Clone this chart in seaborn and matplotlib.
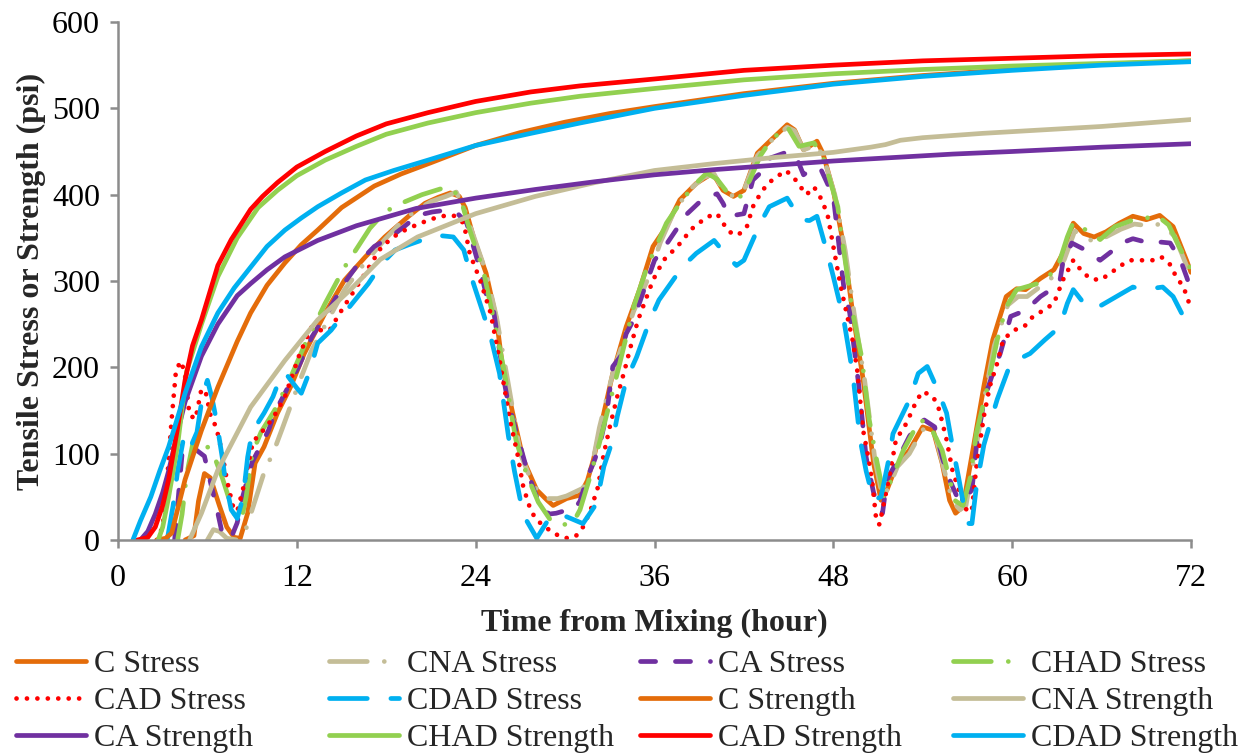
import matplotlib
matplotlib.use("Agg")
import matplotlib.pyplot as plt
import seaborn as sns

# ---------------- data: stress series (hour, psi) ----------------
c_stress_t = [4.5, 5.1, 5.4, 5.8, 6.2, 6.8, 7.3, 7.8, 8.2, 8.7, 9.2, 9.8, 10.7, 11.6, 12.5, 13.9, 15.2, 16.6, 17.9, 19.5, 20.6, 21.5, 22.3, 22.9, 23.3, 23.9, 24.7, 25.4, 25.8, 26.5, 27.2, 28.1, 28.8, 29.2, 30.1, 31.0, 31.5, 31.9, 32.3, 33.2, 34.1, 35.0, 35.9, 36.8, 37.7, 38.8, 39.9, 40.6, 41.3, 42.0, 42.9, 43.8, 44.9, 45.4, 46.0, 46.4, 46.9, 47.3, 48.0, 48.7, 49.3, 50.0, 50.7, 51.2, 51.6, 52.2, 53.1, 54.0, 54.7, 55.3, 55.8, 56.2, 56.7, 57.4, 58.1, 58.7, 59.6, 60.3, 60.9, 61.9, 62.8, 63.4, 64.1, 64.8, 65.5, 66.3, 67.2, 68.1, 69.0, 69.9, 70.8, 71.7, 72.0]
c_stress_v = [0, 5, 45, 77, 72, 40, 15, 3, 2, 31, 89, 108, 147, 178, 216, 263, 301, 328, 351, 375, 390, 397, 402, 398, 385, 348, 309, 255, 201, 146, 93, 58, 46, 40, 48, 52, 69, 93, 124, 193, 247, 290, 340, 363, 394, 413, 425, 405, 398, 405, 448, 463, 481, 475, 452, 456, 462, 448, 405, 340, 263, 186, 89, 46, 58, 85, 104, 131, 127, 89, 46, 31, 39, 108, 178, 232, 282, 291, 290, 303, 313, 332, 367, 355, 351, 357, 367, 375, 371, 376, 363, 324, 310]

cna_stress_t = [6.0, 6.4, 6.8, 7.3, 8.0, 8.5, 9.0, 9.8, 10.5, 11.0, 12.1, 13.0, 14.0, 15.2, 16.6, 17.9, 19.0, 20.0, 21.0, 22.0, 22.7, 23.2, 23.9, 24.7, 25.4, 26.2, 27.0, 27.7, 28.3, 28.8, 29.5, 30.1, 31.2, 31.8, 32.3, 33.2, 34.1, 34.6, 35.5, 36.4, 37.3, 38.3, 39.3, 40.0, 40.6, 41.3, 42.0, 42.9, 43.8, 44.9, 45.4, 46.0, 46.5, 46.9, 47.4, 48.1, 48.8, 49.4, 50.1, 50.8, 51.3, 51.7, 52.3, 53.1, 54.0, 54.8, 55.5, 56.0, 56.5, 56.9, 57.5, 58.2, 58.8, 59.7, 60.4, 61.0, 62.0, 62.9, 63.5, 64.2, 64.9, 65.6, 66.4, 67.3, 68.2, 69.1, 70.0, 70.9, 71.7, 72.0]
cna_stress_v = [0, 12, 10, 2, 0, 8, 35, 78, 105, 128, 180, 220, 252, 290, 322, 348, 368, 382, 392, 398, 403, 385, 350, 310, 258, 180, 100, 70, 53, 48, 48, 51, 60, 85, 130, 193, 240, 265, 300, 345, 380, 405, 420, 424, 405, 398, 405, 445, 462, 478, 474, 452, 455, 458, 440, 400, 335, 262, 185, 92, 50, 60, 85, 100, 128, 124, 77, 45, 35, 40, 100, 170, 225, 272, 282, 282, 295, 307, 325, 358, 350, 345, 352, 360, 366, 364, 366, 352, 318, 305]

ca_stress_t = [3.8, 4.3, 4.7, 5.2, 5.8, 6.3, 6.7, 7.0, 7.3, 7.6, 8.0, 8.3, 9.0, 10.1, 10.5, 11.2, 12.1, 13.0, 14.0, 15.2, 16.3, 17.2, 18.3, 19.2, 20.1, 21.1, 22.0, 22.8, 23.4, 24.3, 24.7, 25.2, 25.9, 26.1, 26.7, 27.3, 27.9, 28.3, 28.9, 29.4, 30.0, 30.6, 31.0, 31.5, 31.9, 32.3, 32.8, 33.2, 33.7, 34.1, 34.6, 35.3, 36.0, 36.7, 37.6, 38.2, 39.3, 40.2, 40.6, 41.0, 42.0, 42.6, 43.1, 43.7, 45.0, 45.6, 46.0, 46.7, 47.2, 47.6, 48.0, 48.7, 49.1, 49.7, 50.2, 50.7, 51.1, 51.3, 51.6, 52.2, 53.1, 53.7, 54.1, 54.8, 55.3, 55.8, 56.3, 56.7, 57.3, 57.6, 58.1, 58.7, 59.2, 59.9, 60.9, 61.9, 62.6, 63.2, 63.4, 64.0, 64.9, 65.4, 65.9, 66.8, 67.5, 68.1, 69.2, 70.0, 70.6, 71.3, 71.7, 72.0]
ca_stress_v = [0, 100, 108, 105, 97, 60, 31, 7, 2, 3, 20, 46, 90, 127, 147, 170, 200, 235, 262, 298, 324, 340, 351, 363, 376, 380, 382, 378, 367, 313, 285, 266, 185, 166, 127, 90, 58, 42, 30, 31, 34, 35, 45, 73, 89, 108, 147, 201, 212, 239, 255, 290, 324, 340, 363, 378, 396, 401, 390, 375, 378, 417, 425, 442, 450, 440, 423, 432, 428, 413, 398, 293, 263, 180, 96, 55, 35, 31, 70, 89, 120, 135, 139, 131, 96, 70, 50, 46, 58, 108, 162, 193, 216, 259, 266, 282, 290, 300, 321, 344, 336, 330, 324, 336, 345, 349, 344, 345, 344, 324, 305, 290]

chad_stress_t = [4.0, 4.3, 4.6, 5.0, 5.4, 6.0, 6.5, 7.0, 7.5, 7.9, 8.3, 8.6, 9.0, 9.6, 10.5, 11.5, 12.5, 13.9, 15.2, 16.0, 16.9, 17.9, 19.0, 20.4, 21.7, 22.4, 23.0, 23.6, 24.5, 25.4, 25.9, 26.7, 27.4, 28.2, 29.1, 30.0, 30.5, 31.0, 31.6, 32.3, 33.5, 34.6, 35.5, 36.8, 37.7, 38.6, 39.5, 40.2, 41.0, 41.8, 42.4, 43.1, 43.8, 44.9, 45.7, 46.2, 46.7, 47.3, 48.3, 48.5, 49.3, 49.9, 50.4, 50.9, 51.4, 51.9, 52.7, 53.8, 54.4, 55.3, 55.8, 56.2, 56.7, 57.2, 57.6, 58.3, 59.0, 59.6, 60.3, 61.7, 63.0, 63.7, 64.1, 64.6, 65.9, 66.9, 68.0, 68.8, 69.7, 70.5, 71.2, 72.0]
chad_stress_v = [0, 30, 75, 110, 124, 108, 95, 72, 45, 25, 25, 50, 100, 125, 150, 185, 225, 274, 316, 337, 361, 380, 390, 400, 407, 407, 395, 359, 313, 240, 197, 116, 77, 44, 21, 18, 19, 35, 69, 112, 193, 270, 316, 367, 390, 410, 425, 418, 400, 398, 417, 445, 463, 479, 456, 458, 460, 444, 386, 359, 263, 212, 140, 93, 50, 70, 104, 139, 135, 104, 70, 45, 40, 73, 124, 174, 232, 270, 290, 297, 313, 351, 368, 363, 348, 363, 370, 372, 376, 365, 340, 313]

cad_stress_t = [2.6, 3.0, 3.3, 3.6, 3.9, 4.25, 4.5, 4.8, 5.2, 5.6, 5.9, 6.2, 6.6, 7.0, 7.3, 7.7, 8.0, 8.4, 9.06, 9.6, 10.3, 10.7, 11.2, 12.2, 13.0, 13.6, 14.2, 15.0, 16.3, 17.7, 18.8, 19.5, 20.3, 21.6, 22.5, 23.2, 23.6, 24.3, 25.0, 25.6, 26.3, 26.8, 27.2, 27.7, 28.1, 29.2, 30.0, 30.7, 31.2, 31.7, 32.2, 32.6, 33.0, 33.5, 34.0, 34.4, 34.9, 35.9, 36.6, 37.3, 37.9, 38.4, 39.5, 40.2, 40.6, 41.0, 41.6, 42.2, 42.6, 43.1, 43.6, 44.8, 45.3, 45.8, 46.2, 46.7, 47.1, 47.6, 48.0, 48.5, 48.9, 49.3, 49.6, 50.0, 50.3, 50.6, 50.9, 51.1, 51.3, 51.8, 52.2, 52.9, 53.6, 54.0, 54.7, 55.1, 55.6, 56.0, 56.5, 57.0, 57.3, 57.6, 58.1, 58.5, 59.0, 59.4, 60.1, 60.8, 61.4, 62.1, 62.8, 63.4, 64.1, 64.6, 65.2, 65.9, 66.6, 67.2, 67.9, 68.6, 69.4, 70.0, 70.6, 71.0, 71.5, 72.0]
cad_stress_v = [0, 15, 70, 140, 198, 207, 190, 145, 140, 175, 170, 145, 130, 100, 70, 40, 33, 60, 114, 124, 139, 150, 166, 216, 247, 243, 243, 266, 301, 340, 355, 361, 367, 375, 376, 367, 332, 301, 263, 209, 139, 100, 61, 34, 23, 8, 2, 4, 15, 34, 61, 100, 131, 166, 197, 224, 255, 301, 324, 336, 347, 359, 374, 378, 367, 357, 353, 363, 386, 401, 413, 428, 421, 409, 400, 409, 398, 378, 340, 293, 262, 231, 197, 127, 100, 69, 20, 18, 35, 77, 116, 135, 162, 172, 166, 151, 116, 80, 54, 32, 35, 85, 143, 178, 205, 232, 243, 247, 259, 266, 274, 301, 324, 313, 303, 301, 309, 317, 324, 324, 324, 328, 319, 305, 293, 268]

cdad_stress_t = [3.3, 3.7, 4.0, 4.4, 4.8, 5.3, 5.7, 6.0, 6.3, 6.6, 7.0, 7.2, 7.6, 8.0, 8.4, 8.7, 9.0, 9.8, 10.4, 11.0, 11.3, 11.6, 12.0, 12.3, 12.9, 13.4, 14.3, 15.2, 16.8, 17.7, 18.6, 19.5, 20.5, 21.4, 22.5, 23.2, 23.7, 24.5, 25.0, 25.6, 26.2, 26.6, 27.0, 27.4, 28.1, 29.0, 30.1, 31.2, 32.1, 32.6, 33.2, 33.5, 34.1, 34.8, 35.7, 36.3, 37.9, 38.8, 40.0, 40.9, 41.5, 42.0, 43.1, 43.7, 44.9, 45.8, 46.4, 46.9, 47.6, 48.0, 48.7, 49.3, 49.8, 50.2, 50.7, 51.2, 51.8, 52.0, 53.1, 53.7, 54.3, 55.0, 55.6, 56.0, 56.4, 56.8, 57.1, 57.3, 57.6, 58.1, 58.6, 59.0, 59.9, 60.5, 61.2, 62.2, 63.2, 63.7, 64.1, 65.0, 66.0, 66.6, 68.1, 68.8, 70.1, 70.8, 71.6, 72.0]
cdad_stress_v = [0, 40, 80, 118, 105, 125, 170, 185, 165, 139, 95, 69, 35, 25, 50, 96, 125, 147, 166, 193, 192, 185, 176, 170, 197, 228, 243, 263, 297, 320, 336, 342, 348, 353, 351, 336, 305, 263, 236, 193, 120, 80, 46, 23, 2, 27, 27, 19, 42, 85, 116, 143, 185, 212, 255, 278, 317, 332, 347, 328, 318, 324, 367, 386, 396, 371, 370, 375, 332, 305, 255, 193, 116, 80, 46, 50, 100, 123, 162, 193, 201, 174, 147, 108, 73, 35, 19, 19, 62, 110, 140, 163, 205, 210, 216, 232, 247, 274, 290, 270, 272, 278, 293, 290, 293, 282, 255, 250]

# ---------------- data: strength series (hour, psi) ----------------
c_strength_t = [2.6, 3.2, 3.6, 4.5, 5.6, 6.7, 8.0, 8.9, 10.0, 11.2, 12.3, 13.4, 15.0, 17.2, 19.0, 21.0, 24.0, 27.0, 30.0, 33.0, 36.0, 42.0, 48.0, 54.0, 60.0, 66.0, 72.0]
c_strength_v = [0, 2, 8, 70, 127, 177, 230, 263, 295, 321, 342, 359, 385, 410, 424, 437, 457, 472, 484, 494, 502, 517, 529, 538, 545, 551, 555]

cna_strength_t = [4.8, 5.6, 6.7, 8.9, 11.2, 13.4, 15.6, 17.6, 20.1, 24.0, 28.0, 32.0, 36.0, 40.0, 44.0, 48.0, 50.5, 51.5, 52.5, 54.0, 58.0, 62.0, 66.0, 72.0]
cna_strength_v = [0, 31, 81, 154, 208, 255, 290, 325, 351, 378, 398, 414, 428, 436, 443, 449, 455, 458, 463, 466, 471, 475, 479, 487]

ca_strength_t = [1.5, 2.0, 2.5, 3.0, 3.4, 4.0, 4.5, 5.6, 6.7, 8.0, 8.9, 10.0, 11.2, 13.4, 16.0, 20.0, 24.0, 28.0, 32.0, 36.0, 40.0, 44.0, 48.0, 52.0, 56.0, 60.0, 66.0, 72.0]
ca_strength_v = [0, 10, 30, 55, 80, 125, 160, 213, 250, 283, 297, 313, 328, 347, 364, 384, 396, 406, 415, 423, 429, 434, 439, 443, 447, 450, 455, 459]

chad_strength_t = [2.7, 3.0, 3.4, 4.0, 4.6, 5.6, 6.7, 8.0, 9.4, 10.7, 12.0, 13.9, 16.0, 18.0, 20.8, 24.0, 27.7, 31.0, 36.0, 42.0, 48.0, 54.0, 60.0, 66.0, 72.0]
chad_strength_v = [0, 15, 50, 110, 195, 250, 305, 350, 385, 405, 422, 440, 456, 470, 483, 495, 506, 514, 523, 533, 540, 545, 549, 552, 555]

cad_strength_t = [1.3, 2.0, 2.5, 3.0, 3.4, 4.0, 4.5, 5.0, 5.6, 6.7, 7.6, 8.9, 9.7, 10.7, 12.0, 13.9, 16.0, 18.0, 20.8, 24.0, 27.7, 31.0, 36.0, 42.0, 48.0, 54.0, 60.0, 66.0, 72.0]
cad_strength_v = [0, 3, 15, 40, 70, 130, 185, 225, 255, 318, 348, 383, 398, 414, 432, 450, 468, 482, 495, 508, 519, 526, 534, 544, 550, 555, 558, 561, 563]

cdad_strength_t = [1.0, 1.5, 2.2, 2.8, 3.4, 4.5, 5.6, 6.7, 7.8, 8.9, 10.0, 11.2, 12.3, 13.4, 15.0, 16.6, 18.5, 20.8, 24.0, 27.7, 31.0, 36.0, 42.0, 48.0, 54.0, 60.0, 66.0, 72.0]
cdad_strength_v = [0, 22, 50, 80, 108, 170, 224, 263, 292, 316, 340, 359, 373, 386, 402, 417, 428, 440, 457, 471, 483, 500, 515, 528, 537, 544, 550, 554]

x_ticks = [0, 12, 24, 36, 48, 60, 72]
y_ticks = [0, 100, 200, 300, 400, 500, 600]
x_title = "Time from Mixing (hour)"
y_title = "Tensile Stress or Strength (psi)"

# ---------------- styling ----------------
ORANGE, TAN, PURPLE = "#E46C0A", "#C4BD97", "#7030A0"
GREEN, RED, CYAN = "#92D050", "#FF0000", "#00B0F0"
LONG_DASH_DOT = (0, (8, 3.6, 0.01, 3.6))
DASH = (0, (3.2, 4.2))
ROUND_DOT = (0, (0.01, 2.2))
LONG_DASH = (0, (8, 5))

series = [
    ("C Stress", c_stress_t, c_stress_v, ORANGE, "-"),
    ("CNA Stress", cna_stress_t, cna_stress_v, TAN, LONG_DASH_DOT),
    ("CA Stress", ca_stress_t, ca_stress_v, PURPLE, DASH),
    ("CHAD Stress", chad_stress_t, chad_stress_v, GREEN, LONG_DASH_DOT),
    ("CAD Stress", cad_stress_t, cad_stress_v, RED, ROUND_DOT),
    ("CDAD Stress", cdad_stress_t, cdad_stress_v, CYAN, LONG_DASH),
    ("C Strength", c_strength_t, c_strength_v, ORANGE, "-"),
    ("CNA Strength", cna_strength_t, cna_strength_v, TAN, "-"),
    ("CA Strength", ca_strength_t, ca_strength_v, PURPLE, "-"),
    ("CHAD Strength", chad_strength_t, chad_strength_v, GREEN, "-"),
    ("CAD Strength", cad_strength_t, cad_strength_v, RED, "-"),
    ("CDAD Strength", cdad_strength_t, cdad_strength_v, CYAN, "-"),
]

sns.set_theme(style="white")
plt.rcParams["font.family"] = ["Liberation Serif", "DejaVu Serif"]
plt.rcParams["font.size"] = 23

W, H = 1247, 753
fig = plt.figure(figsize=(W / 100, H / 100), dpi=100)
ax = fig.add_axes([118 / W, 1 - 540 / H, (1191 - 118) / W, (540 - 22) / H])

LW = 3.4
handles = []
for name, t, v, color, ls in series:
    sns.lineplot(x=t, y=v, ax=ax, color=color, linewidth=LW,
                 estimator=None, sort=False, legend=False)
    line = ax.lines[-1]
    line.set_linestyle(ls)
    line.set_dash_capstyle("round")
    line.set_solid_capstyle("round")
    line.set_label(name)
    handles.append(line)

ax.set_xlim(0, 72)
ax.set_ylim(0, 600)
ax.set_xticks(x_ticks)
ax.set_yticks(y_ticks)
ax.set_xlabel(x_title, fontweight="bold", fontsize=23, labelpad=12)
ax.set_ylabel(y_title, fontweight="bold", fontsize=23, labelpad=4)

AXIS_GRAY = "#8C8C8C"
for side in ("top", "right"):
    ax.spines[side].set_visible(False)
for side in ("left", "bottom"):
    ax.spines[side].set_color(AXIS_GRAY)
    ax.spines[side].set_linewidth(1.8)
ax.tick_params(axis="both", which="major", direction="out", length=6,
               width=1.8, color=AXIS_GRAY, labelsize=23, labelcolor="black",
               left=True, bottom=True)
ax.tick_params(axis="x", pad=11)
ax.tick_params(axis="y", pad=7)
ax.grid(False)

# legend: four evenly spaced columns, three rows each (row-major order)
col_x = [16, 329, 640, 953]
for c in range(4):
    col_handles = [handles[r * 4 + c] for r in range(3)]
    fig.legend(handles=col_handles, labels=[h.get_label() for h in col_handles],
               loc="upper left", bbox_to_anchor=(col_x[c] / W, 1 - 650 / H),
               frameon=False, fontsize=23, handlelength=2.2, handletextpad=0.25,
               labelspacing=0.24, borderpad=0.0, borderaxespad=0.0)

fig.savefig("out.png", dpi=100)
